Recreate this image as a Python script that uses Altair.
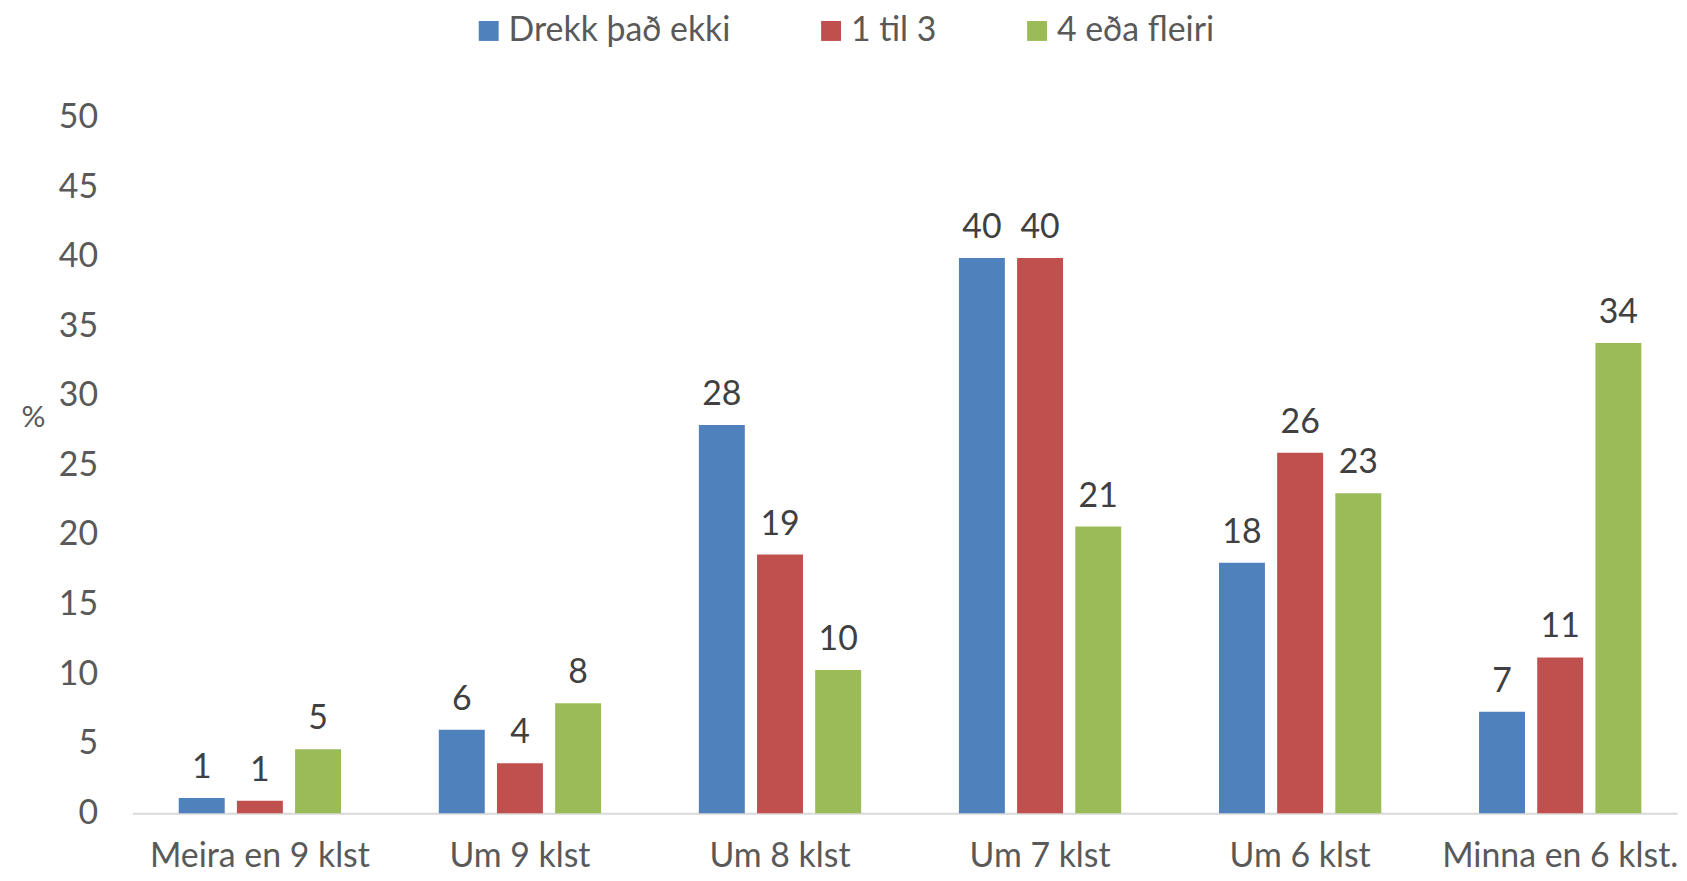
import altair as alt
import pandas as pd

categories = ["Meira en 9 klst", "Um 9 klst", "Um 8 klst", "Um 7 klst", "Um 6 klst", "Minna en 6 klst."]
series = ["Drekk það ekki", "1 til 3", "4 eða fleiri"]
colors = ["#4F81BD", "#C0504D", "#9BBB59"]

drekk_ekki = [1.1, 6.0, 27.9, 39.9, 18.0, 7.3]
einn_til_thrir = [0.9, 3.6, 18.6, 39.9, 25.9, 11.2]
fjorir_fleiri = [4.6, 7.9, 10.3, 20.6, 23.0, 33.8]

rows = []
for s, vals in zip(series, [drekk_ekki, einn_til_thrir, fjorir_fleiri]):
    for c, v in zip(categories, vals):
        rows.append({"cat": c, "series": s, "value": v})
df = pd.DataFrame(rows)

FONT = "Lato"
FS = 34

base = alt.Chart(df).encode(
    x=alt.X("cat:N", sort=categories,
            scale=alt.Scale(paddingInner=0.376, paddingOuter=0.1577, align=0.565),
            axis=alt.Axis(title=None, labelAngle=0, ticks=False, domainColor="#d9d9d9",
                          domainWidth=2, labelFontSize=FS, labelColor="#595959",
                          labelFont=FONT, labelBaseline="middle", labelPadding=44,
                          labelLimit=0)),
    xOffset=alt.XOffset("series:N", sort=series, scale=alt.Scale(paddingInner=0.21, paddingOuter=0)),
    y=alt.Y("value:Q", scale=alt.Scale(domain=[0, 50], nice=False),
            axis=alt.Axis(title="%", values=list(range(0, 51, 5)), grid=False, ticks=False,
                          domain=False, labelFontSize=FS, labelColor="#595959", labelFont=FONT,
                          labelPadding=35, titleAngle=0, titleX=-100, titleY=301,
                          titleAlign="center", titleBaseline="middle", titleFontSize=30,
                          titleFontWeight="normal", titleColor="#595959", titleFont=FONT)),
)

bars = base.mark_bar().encode(
    color=alt.Color("series:N", sort=series,
                    scale=alt.Scale(domain=series, range=colors),
                    legend=alt.Legend(title=None, orient="none", direction="horizontal",
                                      legendX=341, legendY=-104, symbolType="square",
                                      symbolSize=400, symbolStrokeWidth=0, labelFontSize=FS,
                                      labelColor="#595959", labelFont=FONT, labelOffset=3,
                                      columnPadding=84, labelLimit=0))
)

labels = base.mark_text(baseline="alphabetic", dy=-20, fontSize=FS, font=FONT, color="#404040").encode(
    text=alt.Text("value:Q", format=".0f")
)

chart = (bars + labels).properties(
    width=1552, height=699,
    padding={"left": 125, "top": 108, "right": 2, "bottom": 64},
    autosize=alt.AutoSizeParams(type="none"),
).configure(font=FONT, view=alt.ViewConfig(strokeWidth=0, stroke="transparent"))

chart.save("out.html", embed_options={"renderer": "svg", "actions": False})
